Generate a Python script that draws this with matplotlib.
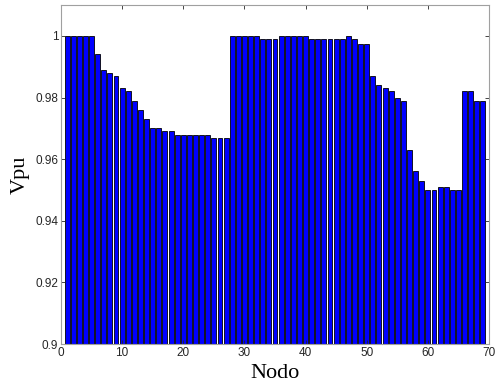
import numpy as np
import matplotlib
matplotlib.use("Agg")
import matplotlib.pyplot as plt

nodo = np.arange(1, 70)
vpu = [1.0, 1.0, 1.0, 1.0, 1.0, 0.994, 0.989, 0.988, 0.987, 0.983,
       0.982, 0.979, 0.976, 0.973, 0.970, 0.970, 0.969, 0.969, 0.968, 0.968,
       0.968, 0.968, 0.968, 0.968, 0.967, 0.967, 0.967, 1.0, 1.0, 1.0,
       1.0, 1.0, 0.999, 0.999, 0.999, 1.0, 1.0, 1.0, 1.0, 1.0,
       0.999, 0.999, 0.999, 0.999, 0.999, 0.999, 1.0, 0.999, 0.9973, 0.9973,
       0.987, 0.984, 0.983, 0.982, 0.980, 0.979, 0.963, 0.956, 0.953, 0.950,
       0.950, 0.951, 0.951, 0.950, 0.950, 0.982, 0.982, 0.979, 0.979]

fig = plt.figure(figsize=(5, 3.91), dpi=100)
ax = fig.add_axes([0.122, 0.12, 0.856, 0.867])

ax.bar(nodo, vpu, width=0.8, color='#0000ff', edgecolor='black', linewidth=0.6)

ax.set_xlim(0, 70)
ax.set_ylim(0.9, 1.01)
ax.set_xticks(np.arange(0, 71, 10))
ax.set_yticks([0.9, 0.92, 0.94, 0.96, 0.98, 1.0])
ax.set_yticklabels(['0.9', '0.92', '0.94', '0.96', '0.98', '1'])
ax.tick_params(direction='in', top=True, right=True, length=3, width=0.6,
               labelsize=8.5, colors='#262626', pad=2)
for lbl in ax.get_xticklabels() + ax.get_yticklabels():
    lbl.set_family('Liberation Sans')
for s in ax.spines.values():
    s.set_color('#a0a0a0')
    s.set_linewidth(0.8)

ax.set_xlabel('Nodo', family='Liberation Serif', fontsize=16, labelpad=4)
ax.set_ylabel('Vpu', family='Liberation Serif', fontsize=16, labelpad=4)

fig.savefig('out.png', dpi=100)
